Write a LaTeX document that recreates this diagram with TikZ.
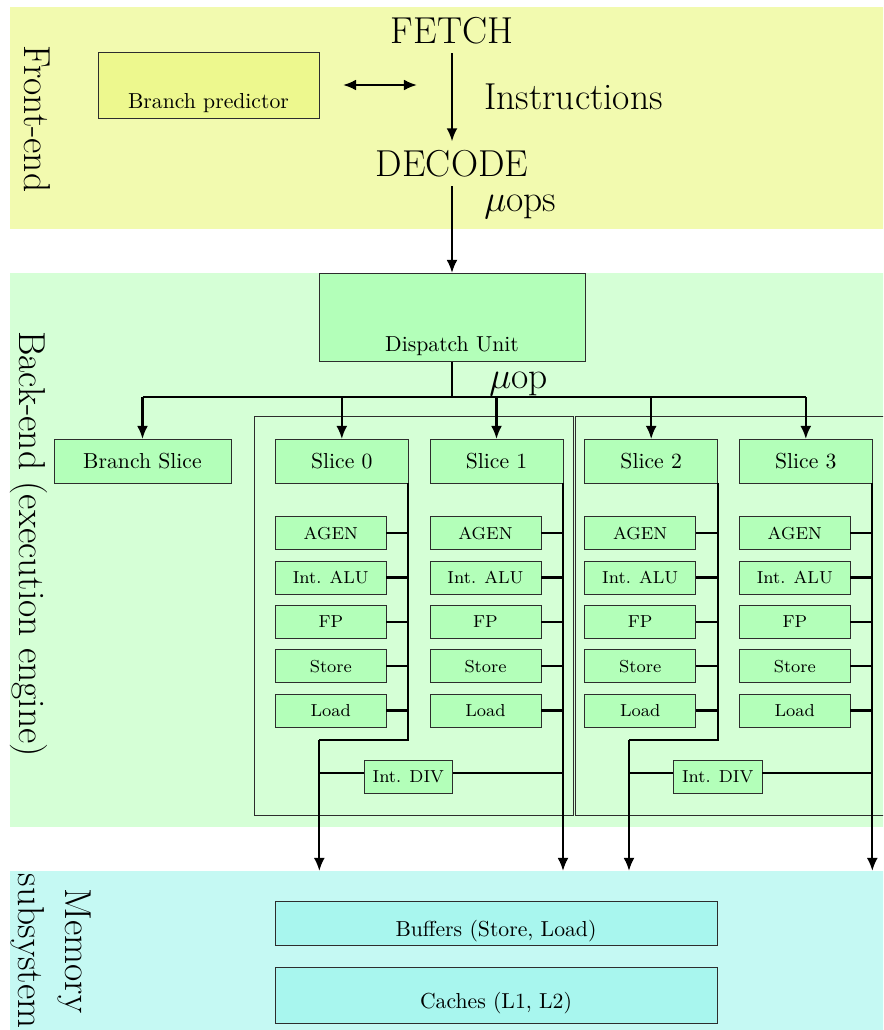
\documentclass[tikz,border=0pt]{standalone}
\usetikzlibrary{arrows.meta,calc}
\newlength\pxu
\setlength\pxu{0.4608pt}
\definecolor{frontband}{RGB}{242,250,175}
\definecolor{bpfill}{RGB}{237,248,142}
\definecolor{backband}{RGB}{213,255,214}
\definecolor{slicefill}{RGB}{179,255,185}
\definecolor{memband}{RGB}{197,249,243}
\definecolor{memfill}{RGB}{168,246,238}
\definecolor{edge}{RGB}{45,45,45}
\tikzset{
  band/.style={draw=none, inner sep=0pt, outer sep=0pt, anchor=north west},
  rbox/.style={draw=edge, line width=0.45pt, inner sep=0pt, outer sep=0pt, anchor=north west},
  frame/.style={draw=edge, line width=0.45pt, fill=none, inner sep=0pt, outer sep=0pt, anchor=north west},
  bigtext/.style={font=\LARGE, inner sep=4pt},
  plaintext/.style={inner sep=0pt},
  unitbox/.style={rbox, fill=slicefill, font=\footnotesize, minimum width=111*\pxu, minimum height=33*\pxu},
  slicebox/.style={rbox, fill=slicefill, minimum width=133*\pxu, minimum height=44*\pxu},
  conn/.style={draw, line width=1pt},
  arr/.style={draw, line width=1pt, -{Latex[length=6pt,width=5pt]}},
  darr/.style={draw, line width=1pt, {Latex[length=6pt,width=5pt]}-{Latex[length=6pt,width=5pt]}},
}
\begin{document}
\begin{tikzpicture}[x=0.4608pt,y=-0.4608pt]
\useasboundingbox (0,0) rectangle (883,1030);
\clip (0,0) rectangle (883,1030);
% bands
\node[band, fill=frontband, minimum width=890*\pxu, minimum height=222*\pxu] (front) at (10,7) {};
\node[band, fill=backband, minimum width=890*\pxu, minimum height=554*\pxu] (back) at (10,273) {};
\node[band, fill=memband, minimum width=890*\pxu, minimum height=170*\pxu] (mem) at (10,871) {};
% band labels
\node[bigtext, rotate=-90, anchor=base, inner sep=0pt] (frontlbl) at (24.5,119) {Front-end};
\node[bigtext, rotate=-90, anchor=base, inner sep=0pt] (backlbl) at (19.5,544) {Back-end (execution engine)};
\node[bigtext, rotate=-90, align=center, inner sep=0pt] (memlbl) at (51,951) {Memory\\subsystem};
% front-end
\node[rbox, fill=bpfill, minimum width=221*\pxu, minimum height=66*\pxu] (bp) at (98,52) {};
\node[plaintext, anchor=base] (bptxt) at (208.5,108.3) {Branch predictor};
\coordinate (ba1) at (343,85);
\coordinate (ba2) at (417,85);
\draw[darr] (ba1) -- (ba2);
\node[bigtext, anchor=base] (fetch) at (452,43.5) {FETCH};
\node[bigtext, anchor=base] (decode) at (452,176.7) {DECODE};
\node[bigtext, anchor=base west, inner sep=0pt] (instr) at (484,110) {Instructions};
\node[bigtext, anchor=base west, inner sep=0pt] (uops) at (484,211.7) {$\mu$ops};
% dispatch
\node[rbox, fill=slicefill, minimum width=266*\pxu, minimum height=88.5*\pxu] (disp) at (319,273) {};
\node[plaintext, anchor=base] (disptxt) at (452,351.5) {Dispatch Unit};
\draw[arr] (fetch.south) -- (decode.north);
\draw[arr] (decode.south) -- (disp.north);
\node[bigtext, anchor=base west, inner sep=0pt] (uop) at (489,388.3) {$\mu$op};
% group frames
\node[frame, minimum width=319*\pxu, minimum height=398.5*\pxu] (g0) at (254,416.5) {};
\node[frame, minimum width=320*\pxu, minimum height=398.5*\pxu] (g1) at (575.5,416.5) {};
% slices
\node[slicebox, minimum width=177*\pxu] (bs) at (54,439) {Branch Slice};
\node[slicebox] (s0) at (275.3,439) {Slice 0};
\node[slicebox] (s1) at (430,439) {Slice 1};
\node[slicebox] (s2) at (584.7,439) {Slice 2};
\node[slicebox] (s3) at (739.3,439) {Slice 3};
% dispatch bus
\coordinate (bus) at (452,397);
\draw[conn] (disp.south) -- (bus);
\draw[conn] (bs.north |- bus) -- (s3.north |- bus);
\foreach \n in {bs,s0,s1,s2,s3} {\draw[arr] (\n.north |- bus) -- (\n.north);}
% units
\foreach \s/\x in {0/275.3,1/430,2/584.7,3/739.3} {
  \foreach \i/\t/\y in {1/AGEN/516.7, 2/Int. ALU/561, 3/FP/605.3, 4/Store/649.7, 5/Load/694} {
    \node[unitbox] (u\s\i) at (\x,\y) {\t};
    \draw[conn] (u\s\i.east) -- (u\s\i.east -| s\s.south east);
  }
}
% Int. DIV units
\node[rbox, fill=slicefill, font=\footnotesize, minimum width=88.6*\pxu, minimum height=33.3*\pxu, anchor=center] (d0) at (408.3,776.7) {Int. DIV};
\node[rbox, fill=slicefill, font=\footnotesize, minimum width=88.6*\pxu, minimum height=33.3*\pxu, anchor=center] (d1) at (717.7,776.7) {Int. DIV};
% slice buses to memory
\coordinate (k0) at (319.3,740);
\coordinate (k1) at (629,740);
\draw[conn] (s0.south east) -- (s0.south east |- k0) -- (k0);
\draw[arr] (k0) -- (k0 |- mem.north);
\draw[arr] (s1.south east) -- (s1.south east |- mem.north);
\draw[conn] (s2.south east) -- (s2.south east |- k1) -- (k1);
\draw[arr] (k1) -- (k1 |- mem.north);
\draw[arr] (s3.south east) -- (s3.south east |- mem.north);
\coordinate (d0l) at ($(d0.west)+(0,-3.5)$);
\coordinate (d0r) at ($(d0.east)+(0,-3.5)$);
\coordinate (d1l) at ($(d1.west)+(0,-3.5)$);
\coordinate (d1r) at ($(d1.east)+(0,-3.5)$);
\draw[conn] (d0l) -- (d0l -| k0);
\draw[conn] (d0r) -- (d0r -| s1.south east);
\draw[conn] (d1l) -- (d1l -| k1);
\draw[conn] (d1r) -- (d1r -| s3.south east);
% memory
\node[rbox, fill=memfill, minimum width=442.3*\pxu, minimum height=44.7*\pxu] (buf) at (275,901) {};
\node[plaintext, anchor=base] (buftxt) at (496,936.7) {Buffers (Store, Load)};
\node[rbox, fill=memfill, minimum width=442.3*\pxu, minimum height=55.6*\pxu] (cache) at (275,967.7) {};
\node[plaintext, anchor=base] (cachetxt) at (496,1008.3) {Caches (L1, L2)};
\end{tikzpicture}
\end{document}
